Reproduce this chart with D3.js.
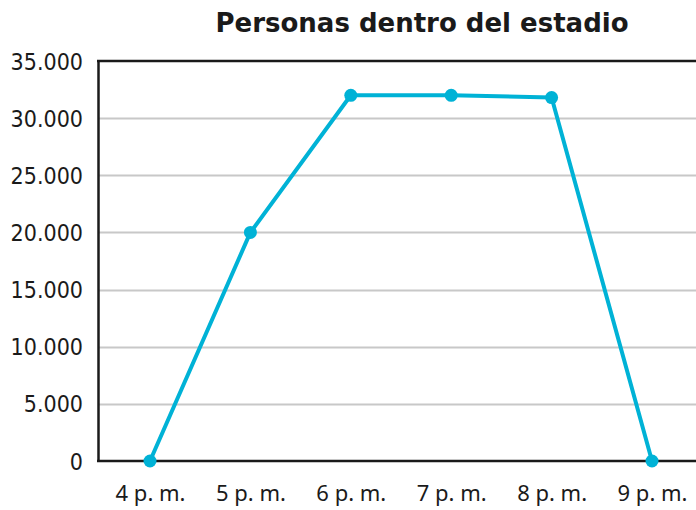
<!DOCTYPE html>
<html>
<head>
<meta charset="utf-8">
<script src="https://cdn.jsdelivr.net/npm/d3@7"></script>
<style>
  body { margin: 0; background: #fff; }
</style>
</head>
<body>
<svg id="chart"></svg>
<script>
const horas = ["4 p. m.", "5 p. m.", "6 p. m.", "7 p. m.", "8 p. m.", "9 p. m."];
const personas = [0, 20000, 32000, 32000, 31800, 0];
const yTicks = [0, 5000, 10000, 15000, 20000, 25000, 30000, 35000];

const width = 696, height = 510;
const margin = { top: 61, bottom: 49, left: 98, right: 0 };

const svg = d3.select("#chart").attr("width", width).attr("height", height);

const xScale = d3.scalePoint()
    .domain(horas)
    .range([150, 652]);

const yScale = d3.scaleLinear()
    .domain([0, 35000])
    .range([height - margin.bottom, margin.top]);

const fmt = d => d3.format(",")(d).replace(/,/g, ".");

// gridlines
svg.append("g")
    .selectAll("line")
    .data(yTicks.filter(t => t > 0 && t < 35000))
    .enter().append("line")
    .attr("x1", margin.left)
    .attr("x2", width)
    .attr("y1", d => Math.round(yScale(d)) + 0.5)
    .attr("y2", d => Math.round(yScale(d)) + 0.5)
    .attr("stroke", "#c8c8c8")
    .attr("stroke-width", 2);

// top line
svg.append("line")
    .attr("x1", margin.left - 1)
    .attr("x2", width)
    .attr("y1", yScale(35000))
    .attr("y2", yScale(35000))
    .attr("stroke", "#1a1a1a")
    .attr("stroke-width", 2.5);

// y axis
const yAxis = d3.axisLeft(yScale)
    .tickValues(yTicks)
    .tickSize(0)
    .tickPadding(15)
    .tickFormat(fmt);

svg.append("g")
    .attr("transform", `translate(${margin.left},0)`)
    .call(yAxis)
    .call(g => g.select(".domain").attr("stroke", "#1a1a1a").attr("stroke-width", 2.5))
    .call(g => g.selectAll("text")
        .attr("font-family", "DejaVu Sans Condensed, DejaVu Sans, sans-serif")
        .attr("font-size", 23)
        .attr("dy", "0.35em")
        .attr("fill", "#1a1a1a"));

// x axis
const xAxis = d3.axisBottom(xScale)
    .tickSize(0)
    .tickPadding(24);

svg.append("g")
    .attr("transform", `translate(0,${yScale(0)})`)
    .call(xAxis)
    .call(g => g.select(".domain").attr("d", `M${margin.left - 1},0H${width}`).attr("stroke", "#1a1a1a").attr("stroke-width", 2.5))
    .call(g => g.selectAll("text")
        .attr("font-family", "Noto Sans, Open Sans, sans-serif")
        .attr("font-size", 22)
        .attr("fill", "#1a1a1a"));

// line
const line = d3.line()
    .x((d, i) => xScale(horas[i]))
    .y(d => yScale(d));

svg.append("path")
    .datum(personas)
    .attr("d", line)
    .attr("fill", "none")
    .attr("stroke", "#00b2d6")
    .attr("stroke-width", 4)
    .attr("stroke-linejoin", "round");

svg.selectAll(".punto")
    .data(personas)
    .enter().append("circle")
    .attr("class", "punto")
    .attr("cx", (d, i) => xScale(horas[i]))
    .attr("cy", d => yScale(d))
    .attr("r", 6.5)
    .attr("fill", "#00b2d6");

// title
svg.append("text")
    .attr("x", 422)
    .attr("y", 32)
    .attr("text-anchor", "middle")
    .attr("font-family", "DejaVu Sans, Verdana, sans-serif")
    .attr("font-weight", "bold")
    .attr("font-size", 26)
    .attr("fill", "#1a1a1a")
    .text("Personas dentro del estadio");
</script>
</body>
</html>
